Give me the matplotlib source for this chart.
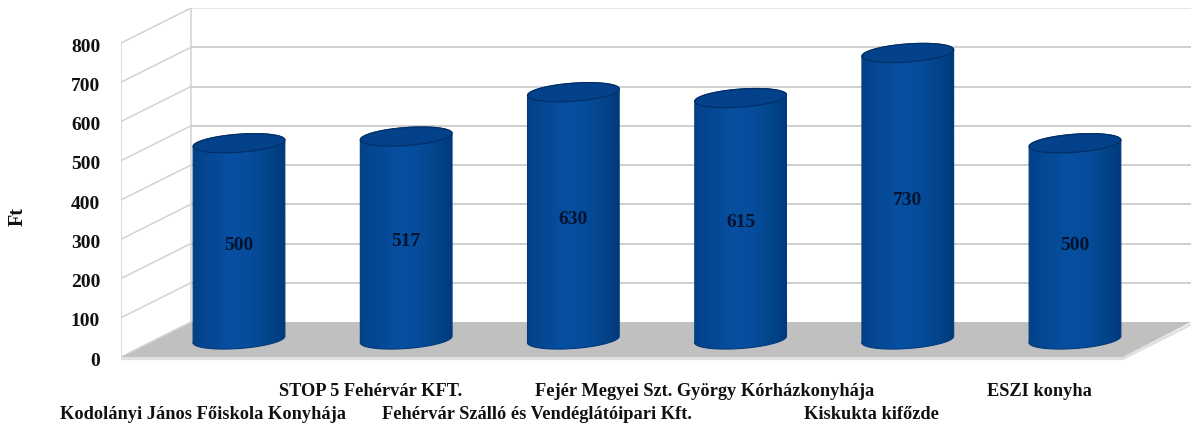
import numpy as np
import matplotlib
matplotlib.use("Agg")
import matplotlib.pyplot as plt
from matplotlib.colors import LinearSegmentedColormap
from matplotlib.patches import Polygon
from matplotlib.transforms import ScaledTranslation

categories = ["Kodolányi János Főiskola Konyhája", "STOP 5 Fehérvár KFT.",
              "Fehérvár Szálló és Vendéglátóipari Kft.",
              "Fejér Megyei Szt. György Kórházkonyhája", "Kiskukta kifőzde", "ESZI konyha"]
values = [500, 517, 630, 615, 730, 500]
y_ticks = [0, 100, 200, 300, 400, 500, 600, 700, 800]

W, H = 1191, 423
PX_X = 167.2       # pixels per category
PX_Y = 0.3925      # pixels per value unit
X0, Y0 = 203, 357  # pixel of first category / value 0 on the front plane
DX, DY = 70 / PX_X, 35 / PX_Y   # depth offset in data units

plt.rcParams["font.family"] = ["Liberation Serif", "DejaVu Serif"]
plt.rcParams["font.weight"] = "bold"

fig = plt.figure(figsize=(W / 100, H / 100), dpi=100)
ax = fig.add_axes([121 / W, (H - Y0) / H, (W - 121) / W, (Y0 - 8) / H])
xlim = ((121 - X0) / PX_X, (W - X0) / PX_X)
ylim = (0, (Y0 - 8) / PX_Y)

for s in ax.spines.values():
    s.set_visible(False)

# floor
x_l, x_r = xlim[0], xlim[0] + 1002 / PX_X
floor = [(x_l, 0), (x_l + DX, DY), (x_l + DX + 1000 / PX_X, DY), (x_r, 0)]
ax.add_patch(Polygon([(x_l, 0), (x_r, 0), (x_r + 0.42, DY), (x_r + 0.42, DY - 7),
                      (x_r, -8), (x_l, -8)],
                     closed=True, fc="#e0e0e0", ec="none", zorder=1, clip_on=False))
ax.add_patch(Polygon(floor, closed=True, fc="#c0c0c0", ec="none", zorder=1.1))

# walls and grid
grid = "#d2d2d2"
for tk in y_ticks:
    ax.plot([x_l, x_l + DX], [tk, tk + DY], color=grid, lw=1.1, zorder=2)
    if tk > 0:
        ax.plot([x_l + DX, xlim[1]], [tk + DY, tk + DY],
                color="#e6e6e6" if tk == 800 else "#cfcfcf", lw=1.4, zorder=2)
ax.plot([x_l, x_l], [0, 800], color=grid, lw=1.1, zorder=2)
ax.plot([x_l + DX, x_l + DX], [DY, 800 + DY], color=grid, lw=1.1, zorder=2)

# cylinders
cmap = LinearSegmentedColormap.from_list(
    "cyl", ["#03428a", "#054894", "#074fa0", "#064d9e", "#03468c", "#003a7c"])
grad = np.linspace(0, 1, 256).reshape(1, -1)
a, b, rot = 46.0, 9.0, np.deg2rad(4.2)


def ellipse(cx, cy, t):
    """Tilted ellipse outline in data units around a centre in data units."""
    ex = a * np.cos(t) * np.cos(rot) - b * np.sin(t) * np.sin(rot)
    ey = a * np.cos(t) * np.sin(rot) + b * np.sin(t) * np.cos(rot)
    return cx + ex / PX_X, cy + ey / PX_Y


t_low = np.linspace(np.pi, 2 * np.pi, 91)
t_up = np.linspace(0, np.pi, 91)
t_full = np.linspace(0, 2 * np.pi, 181)
nudge = 1 / PX_X

for i, v in enumerate(values):
    cx, base = i + DX / 2 + nudge, DY / 2
    top = base + v
    xb, yb = ellipse(cx, base, t_low)
    xu, yu = ellipse(cx, top, t_up)
    xt, yt = ellipse(cx, top, t_full)
    left, right = cx - a / PX_X, cx + a / PX_X
    px = np.r_[xb, xu]
    py = np.r_[yb, yu]
    body = Polygon(np.c_[px, py], closed=True, fc="none", ec="none", zorder=3)
    ax.add_patch(body)
    im = ax.imshow(grad, cmap=cmap, aspect="auto", zorder=3, vmin=0, vmax=1,
                   extent=(left, right, -40, top + 60))
    im.set_clip_path(body)
    ax.plot(np.r_[px, px[0]], np.r_[py, py[0]], color="#023a7c", lw=0.8, zorder=3.1)
    ax.fill(xt, yt, fc="#03428a", ec="#022f68", lw=0.9, zorder=4)
    ax.text(cx, base + v / 2 - 10, str(v), ha="center", va="center",
            fontsize=14, fontweight="bold", color="#03132e", zorder=5)

ax.set_xlim(*xlim)
ax.set_ylim(*ylim)

# axes text
ax.set_yticks(y_ticks)
ax.set_yticklabels([str(y) for y in y_ticks], fontsize=14, fontweight="bold", color="#111111")
ax.tick_params(axis="y", length=0, pad=15)
shift = ScaledTranslation(0, -2 / 100, fig.dpi_scale_trans)
for lab in ax.get_yticklabels():
    lab.set_transform(lab.get_transform() + shift)
ax.set_xticks(range(len(categories)))
ax.set_xticklabels(categories, fontsize=13.2, fontweight="bold", color="#111111")
ax.tick_params(axis="x", length=0)
for i, tick in enumerate(ax.xaxis.get_major_ticks()):
    tick.set_pad(35.5 if i % 2 == 0 else 18.5)

fig.text(18 / W, (H - 216) / H, "Ft", rotation=90, ha="center", va="center",
         fontsize=14.5, fontweight="bold", color="#111111")

fig.savefig("out.png", dpi=100, facecolor="white")
